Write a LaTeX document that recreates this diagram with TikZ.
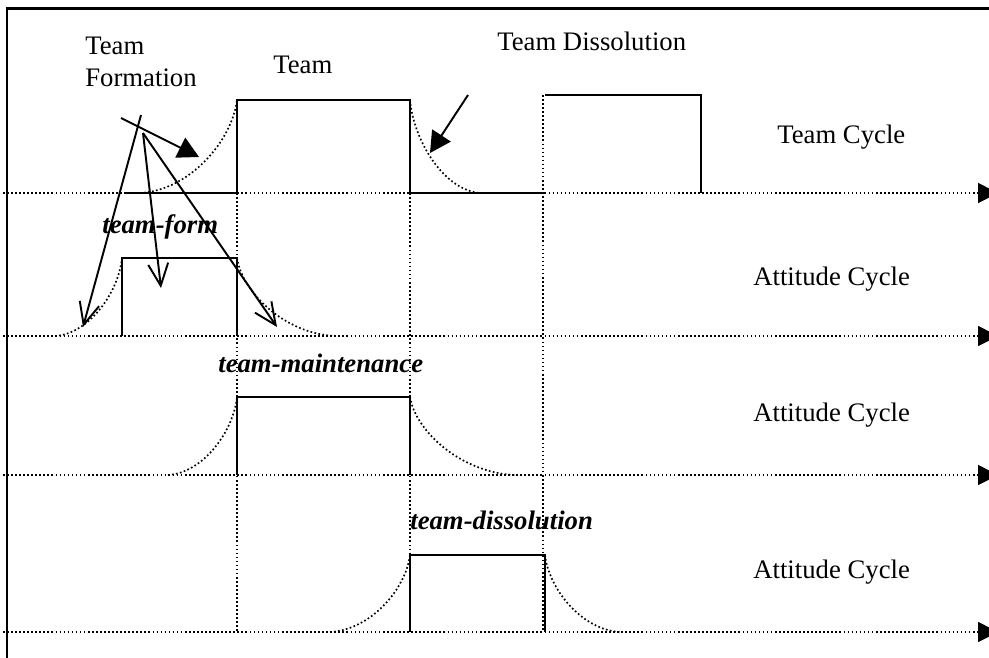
\documentclass[tikz,border=0pt]{standalone}
\usepackage{fontspec}
\setmainfont{Liberation Serif}
\usetikzlibrary{arrows.meta}
\def\riseup(#1,#2)(#3,#4){\draw[dotline] (#1,#2) .. controls ({#1+0.52*(#3-#1)},{#2-0.03*(#2-#4)}) and ({#3-0.05*(#3-#1)},{#2-0.57*(#2-#4)}) .. (#3,#4);}
\def\falloff(#1,#2)(#3,#4){\draw[dotline] (#1,#2) .. controls ({#1+0.05*(#3-#1)},{#4-0.57*(#4-#2)}) and ({#1+0.48*(#3-#1)},{#4-0.03*(#4-#2)}) .. (#3,#4);}

\begin{document}
\begin{tikzpicture}[x=0.02cm, y=-0.02cm,
	dotline/.style={line width=0.95pt, dash pattern=on 0.95pt off 1.35pt},
	pulse/.style={line width=1.1pt},
	lbl/.style={inner sep=0pt, font=\fontsize{15.2}{18.2}\selectfont},
	tag/.style={inner sep=0pt, font=\fontsize{15.2}{18.2}\selectfont\bfseries\itshape},
	barb/.style={line width=1.1pt, -{Straight Barb[length=0.44cm, width=0.4cm]}},
	fillhead/.style={line width=1.1pt, -{Triangle[length=0.42cm, width=0.44cm]}}]
		%%%%% START %%%%%
		\useasboundingbox (0,0) rectangle (989,657);
		
		\draw[line width=1.7pt] (7,700) -- (7,8) -- (1000,8);
		
		% time axes
		\foreach \ay in {193,336,475,632}
			\draw[dotline, -{Triangle[length=0.4cm, width=0.4cm]}] (3,\ay) -- (998,\ay);
		
		% phase boundaries
		\draw[dotline] (237,100) -- (237,632);
		\draw[dotline] (410,100) -- (410,632);
		\draw[dotline] (543,95) -- (543,632);
		
		% team cycle
		\draw[pulse] (125,193) -- (237,193) -- (237,100) -- (410,100) -- (410,193) -- (545,193);
		\draw[pulse] (545,95) -- (701,95) -- (701,193);
		\riseup(140,193)(237,100);
		\falloff(410,100)(480,193);
		
		% attitude cycles
		\draw[pulse] (122,336) -- (122,258) -- (237,258) -- (237,336);
		\riseup(55,336)(122,258);
		\falloff(237,258)(335,336);
		
		\draw[pulse] (237,475) -- (237,397) -- (410,397) -- (410,475);
		\riseup(168,475)(237,397);
		\falloff(410,397)(515,475);
		
		\draw[pulse] (410,632) -- (410,555) -- (545,555) -- (545,632);
		\riseup(330,632)(410,555);
		\falloff(545,555)(620,632);
		
		% labels
		\node[lbl, anchor=north west, align=left] (formlbl) at (85,37) {Team\\Formation};
		\node[lbl, anchor=base west] (teamlbl) at (273,73) {Team};
		\node[lbl, anchor=base west] (disslbl) at (497,50) {Team Dissolution};
		\node[lbl, anchor=base west] (teamcyc) at (777,143) {Team Cycle};
		\node[lbl, anchor=base west] (attcyca) at (753,285) {Attitude Cycle};
		\node[lbl, anchor=base west] (attcycb) at (753,421) {Attitude Cycle};
		\node[lbl, anchor=base west] (attcycc) at (753,578) {Attitude Cycle};
		
		\node[tag, anchor=base west] (formtag) at (102,233) {team-form};
		\node[tag, anchor=base west] (maintag) at (218,372) {team-maintenance};
		\node[tag, anchor=base west] (disstag) at (410,529) {team-dissolution};
		
		% pointers
		\coordinate (formA) at (141,115);
		\coordinate (formB) at (143,133);
		\coordinate (formC) at (121,118);
		\coordinate (dissA) at (468,95);
		\coordinate (attRise) at (83,327);
		\coordinate (attTop) at (161,288);
		\coordinate (attFall) at (277,327);
		\coordinate (teamRise) at (199,157);
		\coordinate (teamFall) at (430,153);
		
		\draw[barb] (formA) -- (attRise);
		\draw[barb] (formB) -- (attTop);
		\draw[barb] (formB) -- (attFall);
		\draw[fillhead] (formC) -- (teamRise);
		\draw[fillhead] (dissA) -- (teamFall);
		
		%%%%% END %%%%%
\end{tikzpicture}
\end{document}
